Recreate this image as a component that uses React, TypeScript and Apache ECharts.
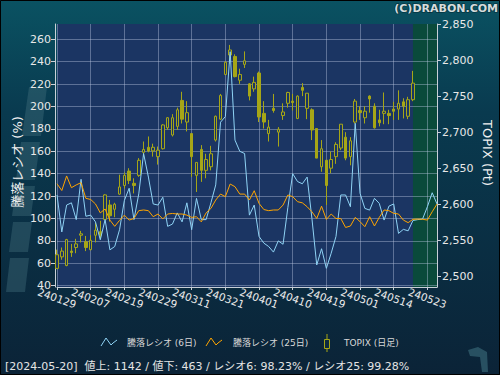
import { useEffect, useRef } from "react";
import * as echarts from "echarts";

const dates = [
  "240129","240130","240131","240201","240202","240205","240206","240207","240208","240209",
  "240213","240214","240215","240216","240219","240220","240221","240222","240226","240227",
  "240228","240229","240301","240304","240305","240306","240307","240308","240311","240312",
  "240313","240314","240315","240318","240319","240321","240322","240325","240326","240327",
  "240328","240329","240401","240402","240403","240404","240405","240408","240409","240410",
  "240411","240412","240415","240416","240417","240418","240419","240422","240423","240424",
  "240425","240426","240430","240501","240502","240507","240508","240509","240510","240513",
  "240514","240515","240516","240517","240520","240521","240522","240523","240524","240527",
];

const topixOpen = [
  2511,2527,2515,2535,2540,2557,2548,2537,2557,2562,
  2579,2599,2593,2614,2626,2646,2629,2640,2672,2679,
  2674,2666,2677,2706,2696,2708,2744,2714,2698,2640,
  2676,2647,2652,2689,2718,2780,2807,2805,2772,2794,
  2767,2760,2782,2726,2698,2733,2700,2723,2740,2743,
  2719,2762,2733,2731,2705,2652,2661,2650,2666,2678,
  2693,2666,2714,2730,2720,2750,2736,2717,2726,2726,
  2732,2732,2742,2722,2745,
];
const topixClose = [
  2530,2535,2551,2533,2545,2559,2540,2550,2564,2557,
  2613,2584,2600,2624,2640,2633,2626,2661,2676,2674,
  2679,2675,2710,2720,2720,2731,2718,2727,2666,2658,
  2647,2662,2670,2722,2751,2797,2814,2777,2780,2799,
  2750,2769,2721,2714,2707,2730,2704,2728,2755,2741,
  2750,2758,2754,2703,2664,2677,2626,2662,2683,2711,
  2664,2688,2743,2727,2729,2746,2706,2713,2729,2723,
  2729,2740,2736,2745,2768,
];
const topixLow = [
  2510,2523,2514,2527,2532,2547,2535,2536,2547,2552,
  2578,2576,2582,2613,2622,2628,2615,2638,2666,2672,
  2666,2655,2676,2703,2694,2703,2712,2701,2638,2617,
  2631,2636,2647,2687,2717,2779,2795,2776,2767,2789,
  2744,2756,2714,2705,2687,2727,2680,2717,2734,2730,
  2718,2750,2718,2689,2664,2645,2599,2643,2656,2675,
  2661,2654,2712,2717,2712,2727,2705,2708,2711,2711,
  2717,2717,2719,2718,2743,
];
const topixHigh = [
  2537,2540,2552,2545,2552,2563,2556,2557,2574,2577,
  2614,2606,2602,2641,2644,2650,2636,2664,2687,2694,
  2684,2680,2711,2721,2725,2734,2756,2743,2698,2658,
  2682,2670,2681,2723,2753,2798,2821,2808,2788,2812,
  2768,2777,2784,2743,2717,2753,2707,2740,2756,2753,
  2751,2768,2754,2733,2705,2689,2661,2673,2686,2711,
  2700,2693,2746,2736,2736,2751,2740,2731,2755,2731,
  2742,2758,2747,2749,2785,
];

const ratio6 = [
  121,88,112,114,99,135,102,103,97,81,
  99,72,75,90,116,127,99,122,158,137,
  113,112,119,93,95,105,97,114,90,118,
  99,99,114,130,186,191,249,170,160,158,
  103,112,84,78,75,70,80,77,110,140,
  133,131,137,100,58.5,73,55.5,69,84,121,
  121,110.5,185,122.5,109,107.5,118,113.5,98.6,111,
  113,86.7,90.3,89,98.23,99,99.5,110.5,123,113,
];
const ratio25 = [
  131,125,138,127.5,130,132,118,117,113,105,
  108.5,98.6,93,98.3,103,98.6,100,107,107.6,107,
  101.6,104,99.6,104,104.5,104,104,103,101,101.6,
  97,105,109,116.5,121.8,119.5,130.8,128.4,121.8,121.8,
  116.5,124.8,113.5,108,107,107.6,107.6,112,121,119.5,
  115,114,110.5,106,100,111,99.2,104,100,100,
  92,93.3,101,97.2,92.7,101.6,93.3,101,107.6,107,
  104.6,104,98.6,96.3,99.28,99.5,99.3,98.6,106,112.9,
];

const leftTicks = [40, 60, 80, 100, 120, 140, 160, 180, 200, 220, 240, 260];
const rightTicks = [2500, 2550, 2600, 2650, 2700, 2750, 2800, 2850];
const labelEvery = 7;
const futureStart = "240520";
const futureEnd = "240527";

const legendNames = ["騰落レシオ (6日)", "騰落レシオ (25日)", "TOPIX (日足)"];
const footerText = "[2024-05-20]  値上: 1142 / 値下: 463 / レシオ6: 98.23% / レシオ25: 99.28%";

const FONT = "'DejaVu Sans', 'Noto Sans CJK JP', sans-serif";
const OLIVE = "#a6a617";
const PLOT_BG = "#1b3563";
const BLUE = "#8fd3f5";
const ORANGE = "#ffa500";
const GRIDLINE = "rgba(185,198,225,0.42)";
const AXIS = "#c9d0d8";
const LABEL = "#e8e8e8";

export default function App() {
  const ref = useRef<HTMLDivElement>(null);

  useEffect(() => {
    const chart = echarts.init(ref.current!, null, { renderer: "svg" });

    const candleData = topixOpen.map((o, i) => [o, topixClose[i], topixLow[i], topixHigh[i]]);
    const pick = (index: number) => index % labelEvery === 0;

    const wm = "rgba(70,115,130,0.38)";
    const wmBlocks = [
      [[29, 87], [47, 87], [41, 136], [22, 136]],
      [[21, 142], [40, 142], [35, 180], [16, 180]],
      [[16, 186], [35, 186], [31, 216], [12, 216]],
      [[13, 222], [32, 222], [28, 252], [9, 252]],
      [[10, 258], [29, 258], [25, 292], [6, 292]],
    ];

    chart.setOption({
      animation: false,
      backgroundColor: {
        type: "linear", x: 0, y: 0, x2: 0, y2: 1,
        colorStops: [
          { offset: 0, color: "#0a5262" },
          { offset: 0.3, color: "#093a4f" },
          { offset: 1, color: "#0b2337" },
        ],
      },
      grid: {
        left: 57, right: 63, top: 24, bottom: 88,
        show: true, backgroundColor: PLOT_BG, borderWidth: 0,
      },
      xAxis: {
        type: "category",
        data: dates,
        boundaryGap: false,
        z: 1.5,
        axisLine: { show: true, lineStyle: { color: AXIS, width: 1 } },
        axisTick: { show: true, interval: pick, length: 3, lineStyle: { color: AXIS } },
        axisLabel: {
          interval: pick, rotate: -20, color: LABEL, fontSize: 10.5, fontFamily: FONT,
          margin: 11, align: "center", verticalAlign: "middle",
          showMinLabel: true, showMaxLabel: true, hideOverlap: false,
        },
        splitLine: { show: true, interval: pick, lineStyle: { color: GRIDLINE, width: 1 } },
      },
      yAxis: [
        {
          type: "value",
          position: "left",
          min: 38.84, max: 273.66,
          offset: 2,
          z: 1.5,
          axisLine: { show: true, lineStyle: { color: AXIS, width: 1 } },
          axisTick: { show: true, length: 4, lineStyle: { color: AXIS }, customValues: leftTicks },
          axisLabel: { color: LABEL, fontSize: 11, fontFamily: FONT, margin: 4, customValues: leftTicks },
          splitLine: { show: true, lineStyle: { color: GRIDLINE, width: 1 } },
        },
        {
          type: "value",
          position: "right",
          min: 2485.2, max: 2850,
          z: 1.5,
          axisLine: { show: true, lineStyle: { color: AXIS, width: 1 } },
          axisTick: { show: true, length: 4, lineStyle: { color: AXIS }, customValues: rightTicks },
          axisLabel: {
            color: LABEL, fontSize: 11, fontFamily: FONT, margin: 5, customValues: rightTicks,
            formatter: (v: number) => v.toLocaleString("en-US"),
          },
          splitLine: { show: false },
        },
      ],
      series: [
        {
          type: "line",
          data: [],
          z: 1,
          silent: true,
          markArea: {
            silent: true,
            itemStyle: { color: "#0a4a3b", opacity: 1 },
            data: [[{ xAxis: futureStart }, { xAxis: futureEnd }]],
          },
        },
        {
          name: legendNames[2],
          type: "candlestick",
          yAxisIndex: 1,
          z: 2,
          barWidth: 3,
          data: candleData,
          itemStyle: {
            color: PLOT_BG, color0: OLIVE,
            borderColor: OLIVE, borderColor0: OLIVE, borderWidth: 1,
          },
        },
        {
          name: legendNames[0],
          type: "line",
          yAxisIndex: 0,
          z: 3,
          data: ratio6,
          symbol: "none",
          lineStyle: { color: BLUE, width: 1 },
        },
        {
          name: legendNames[1],
          type: "line",
          yAxisIndex: 0,
          z: 3,
          data: ratio25,
          symbol: "none",
          lineStyle: { color: ORANGE, width: 1 },
        },
      ],
      graphic: [
        ...wmBlocks.map((pts) => ({
          type: "polygon", silent: true, z: -1,
          shape: { points: pts },
          style: { fill: wm },
        })),
        {
          type: "polygon", silent: true,
          shape: { points: [[468, 350], [478, 347], [487, 352], [488, 372], [482, 372], [480, 357], [470, 356]] },
          style: { fill: "rgba(60,110,125,0.6)" },
        },
        {
          type: "rect", silent: true,
          shape: { x: 0.5, y: 0.5, width: 499, height: 374 },
          style: { fill: "none", stroke: "#000", lineWidth: 1 },
        },
        {
          type: "text", x: 498, y: 8,
          style: {
            text: "(C)DRABON.COM", align: "right", verticalAlign: "middle",
            font: `bold 11px ${FONT}`, fill: "#d6dcdc",
            stroke: "rgba(0,0,0,0.35)", lineWidth: 1.5,
          },
        },
        {
          type: "text", x: 17, y: 162, rotation: Math.PI / 2,
          style: {
            text: "騰落レシオ (%)", align: "center", verticalAlign: "middle",
            font: `13px ${FONT}`, fill: "#f0f0f0",
          },
        },
        {
          type: "text", x: 487, y: 153, rotation: -Math.PI / 2,
          style: {
            text: "TOPIX (Pt)", align: "center", verticalAlign: "middle",
            font: `13px ${FONT}`, fill: "#f0f0f0",
          },
        },
        {
          type: "polyline",
          shape: { points: [[101, 346], [106, 338], [111, 345], [113, 343], [117, 340]] },
          style: { stroke: BLUE, lineWidth: 1, fill: "none" },
        },
        {
          type: "text", x: 127, y: 343,
          style: { text: legendNames[0], verticalAlign: "middle", font: `9px ${FONT}`, fill: "#d8d8d8" },
        },
        {
          type: "polyline",
          shape: { points: [[206, 346], [211, 338], [216, 345], [218, 343], [222, 340]] },
          style: { stroke: ORANGE, lineWidth: 1, fill: "none" },
        },
        {
          type: "text", x: 233, y: 343,
          style: { text: legendNames[1], verticalAlign: "middle", font: `9px ${FONT}`, fill: "#d8d8d8" },
        },
        {
          type: "line",
          shape: { x1: 327, y1: 334, x2: 327, y2: 352 },
          style: { stroke: OLIVE, lineWidth: 1 },
        },
        {
          type: "rect",
          shape: { x: 324.5, y: 339.5, width: 5, height: 9 },
          style: { fill: "#0c2a40", stroke: OLIVE, lineWidth: 1 },
        },
        {
          type: "text", x: 344, y: 343,
          style: { text: legendNames[2], verticalAlign: "middle", font: `9px ${FONT}`, fill: "#d8d8d8" },
        },
        {
          type: "text", x: 5, y: 366,
          style: { text: footerText, verticalAlign: "middle", font: `11px ${FONT}`, fill: "#e4e4e4" },
        },
      ],
    });

    return () => chart.dispose();
  }, []);

  return (
    <div
      ref={ref}
      style={{ position: "absolute", left: 0, top: 0, width: 500, height: 375 }}
    />
  );
}
